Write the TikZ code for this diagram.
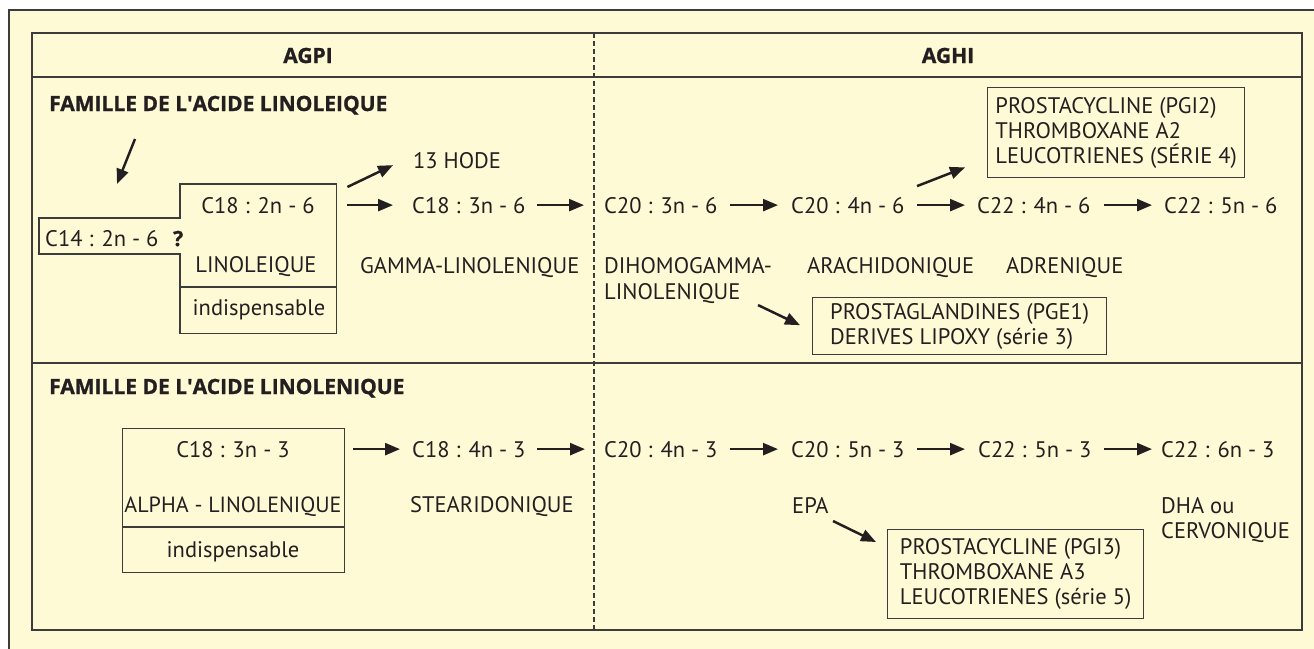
\documentclass[tikz,border=0pt]{standalone}
\usepackage{fontspec}
\setmainfont{PT Sans}
\newfontfamily\hdrfont{Open Sans}[BoldFeatures={FakeBold=1}]
\usetikzlibrary{arrows.meta,calc}
\definecolor{bgyellow}{HTML}{FFFAD6}
\definecolor{linecol}{HTML}{3C3C3C}
\definecolor{textcol}{HTML}{231F20}
\begin{document}
\begin{tikzpicture}[x=1pt,y=-1pt,
  txt/.style={inner sep=0pt, text=textcol, font=\fontsize{22.5}{25}\selectfont},
  hdr/.style={inner sep=0pt, text=textcol, font=\hdrfont\fontsize{21}{25}\selectfont\bfseries},
  arr/.style={draw=textcol, line width=2.5pt, -{Triangle[length=15pt,width=12pt]}},
  frame/.style={draw=linecol, line width=1.4pt},
  listbox/.style={frame, anchor=north west, align=left, text=textcol, inner sep=0pt, font=\fontsize{22.5}{25}\selectfont}]

\useasboundingbox (0,0) rectangle (1314,648);
\fill[white] (0,0) rectangle (1314,648);
\filldraw[fill=bgyellow, draw=linecol, line width=1.4pt] (9,10) rectangle (1330,670);

% table
\draw[frame] (32,33) rectangle (1302,630);
\draw[frame] (32,77) -- (1302,77);
\draw[frame] (32,363) -- (1302,363);
\draw[linecol, line width=1.1pt, dash pattern=on 5pt off 3pt] (594,33) -- (594,630);

% headers
\node[hdr, anchor=base] (agpi) at (308,63) {AGPI};
\node[hdr, anchor=base] (aghi) at (948,63) {AGHI};
\node[hdr, anchor=base west] (fam1) at (49,111) {FAMILLE DE L\textquotesingle ACIDE LINOLEIQUE};
\node[hdr, anchor=base west] (fam2) at (49,394) {FAMILLE DE L\textquotesingle ACIDE LINOLENIQUE};

% ---------- row 1 ----------
\node[inner sep=0pt, minimum width=156pt, minimum height=149pt, anchor=north west] (box1) at (180,184) {};
\draw[frame] (box1.north west) -- (box1.north east) -- (box1.south east) -- (box1.south west)
  -- (180,254) -- (39,254) -- (39,218) -- (180,218) -- cycle;
\draw[frame] ($(box1.north west)+(0,103)$) -- ($(box1.north east)+(0,103)$);
\node[txt, anchor=base] (c182) at (258,213) {C18 : 2n - 6};
\node[txt, anchor=base west] (c14) at (45,246) {C14 : 2n - 6};
\node[hdr, anchor=base west] (qmark) at (173,246) {?};
\node[txt, anchor=base] (lino) at (256,272) {LINOLEIQUE};
\node[txt, anchor=base] (ind1) at (259,315) {indispensable};

\coordinate (a1s) at (135,139);
\coordinate (a1e) at (117,184);
\draw[arr] (a1s) -- (a1e);

\node[txt, anchor=base west] (hode) at (413,168) {13 HODE};
\node[txt, anchor=base west] (c183) at (412,213) {C18 : 3n - 6};
\node[txt, anchor=base west] (gamma) at (360,273) {GAMMA-LINOLENIQUE};
\node[txt, anchor=base west] (c203) at (604,213) {C20 : 3n - 6};
\node[txt, anchor=base west] (dihomoa) at (604,273) {DIHOMOGAMMA-};
\node[txt, anchor=base west] (dihomob) at (604,299) {LINOLENIQUE};
\node[txt, anchor=base west] (c204) at (791,213) {C20 : 4n - 6};
\node[txt, anchor=base west] (arach) at (807,273) {ARACHIDONIQUE};
\node[txt, anchor=base west] (c224) at (977,213) {C22 : 4n - 6};
\node[txt, anchor=base west] (adren) at (1006,273) {ADRENIQUE};
\node[txt, anchor=base west] (c225) at (1164,213) {C22 : 5n - 6};

\node[listbox, minimum width=257pt, minimum height=90pt] (pgi2) at (987,87)
  {PROSTACYCLINE (PGI2)\\THROMBOXANE A2\\LEUCOTRIENES (SÉRIE 4)};
\node[listbox, minimum width=294pt, minimum height=57pt] (pge1) at (812,297)
  {PROSTAGLANDINES (PGE1)\\DERIVES LIPOXY (série 3)};

\draw[arr] ($(box1.north east)+(11,3)$) -- ($(hode.west)+(-20,5)$);
\draw[arr] ($(box1.east |- c183.west)+(11,0)$) -- ($(c183.west)+(-19,0)$);
\draw[arr] ($(c183.west)+(125,0)$) -- ($(c203.west)+(-20,0)$);
\draw[arr] ($(c203.west)+(126,0)$) -- ($(c204.west)+(-13,0)$);
\draw[arr] ($(c204.west)+(126,0)$) -- ($(c224.west)+(-12,0)$);
\draw[arr] ($(c224.west)+(127,0)$) -- ($(c225.west)+(-12,0)$);
\draw[arr] ($(c204.west)+(126,-19)$) -- ($(pgi2.south west)+(-22,-11)$);
\draw[arr] ($(dihomob.west)+(154,12)$) -- ($(pge1.west)+(-12,-1)$);

% ---------- row 2 ----------
\node[frame, inner sep=0pt, minimum width=222pt, minimum height=144pt, anchor=north west] (box2) at (122,428) {};
\draw[frame] ($(box2.north west)+(0,99)$) -- ($(box2.north east)+(0,99)$);
\node[txt, anchor=base] (c183b) at (233,457) {C18 : 3n - 3};
\node[txt, anchor=base, font=\fontsize{22}{25}\selectfont] (alpha) at (233,512) {ALPHA - LINOLENIQUE};
\node[txt, anchor=base] (ind2) at (233,557) {indispensable};

\node[txt, anchor=base west] (c184) at (412,457) {C18 : 4n - 3};
\node[txt, anchor=base west] (stear) at (410,512) {STEARIDONIQUE};
\node[txt, anchor=base west] (c204b) at (604,457) {C20 : 4n - 3};
\node[txt, anchor=base west] (c205b) at (791,457) {C20 : 5n - 3};
\node[txt, anchor=base west] (epa) at (792,513) {EPA};
\node[txt, anchor=base west] (c225b) at (978,457) {C22 : 5n - 3};
\node[txt, anchor=base west] (c226b) at (1161,457) {C22 : 6n - 3};
\node[txt, anchor=base west] (dha) at (1161,513) {DHA ou};
\node[txt, anchor=base west] (cerv) at (1161,538) {CERVONIQUE};

\node[listbox, minimum width=256pt, minimum height=89pt] (pgi3) at (887,529)
  {PROSTACYCLINE (PGI3)\\THROMBOXANE A3\\LEUCOTRIENES (série 5)};

\draw[arr] ($(box2.east |- c184.west)+(8,0)$) -- ($(c184.west)+(-12,0)$);
\draw[arr] ($(c184.west)+(125,0)$) -- ($(c204b.west)+(-19,0)$);
\draw[arr] ($(c204b.west)+(126,0)$) -- ($(c205b.west)+(-13,0)$);
\draw[arr] ($(c205b.west)+(126,0)$) -- ($(c225b.west)+(-13,0)$);
\draw[arr] ($(c225b.west)+(126,0)$) -- ($(c226b.west)+(-9,0)$);
\draw[arr] ($(epa.west)+(41,16)$) -- ($(pgi3.north west)+(-11,13)$);

\end{tikzpicture}
\end{document}
